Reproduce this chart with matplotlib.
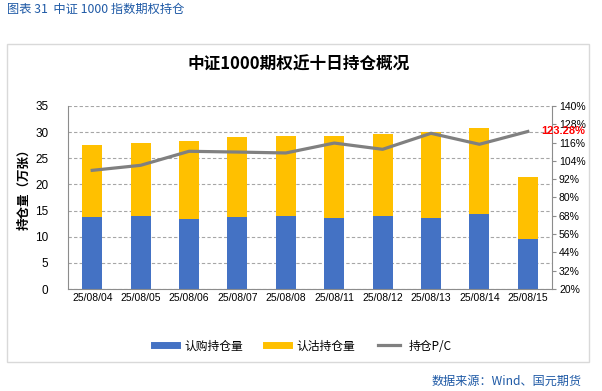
import matplotlib.pyplot as plt
from matplotlib.lines import Line2D
from matplotlib.patches import Rectangle
from matplotlib.ticker import FuncFormatter

plt.rcParams['font.family'] = ['Liberation Sans', 'Noto Sans CJK SC', 'DejaVu Sans']

# data
dates = ['25/08/04', '25/08/05', '25/08/06', '25/08/07', '25/08/08',
         '25/08/11', '25/08/12', '25/08/13', '25/08/14', '25/08/15']
call_oi = [13.8, 14.0, 13.4, 13.8, 14.0, 13.6, 14.0, 13.6, 14.3, 9.6]
put_oi = [13.7, 13.9, 14.9, 15.3, 15.2, 15.7, 15.6, 16.4, 16.5, 11.8]
pc_ratio = [97.8, 101.1, 110.3, 109.8, 109.2, 115.7, 111.6, 122.1, 114.9, 123.28]

fig = plt.figure(figsize=(6.02, 3.91), dpi=100)
cjk = ['Noto Sans CJK SC', 'DejaVu Sans']

# outer frame
fig.patches.append(Rectangle((6.5 / 602, 1 - 362 / 391), (589 - 6.5) / 602, (362 - 44) / 391,
                             transform=fig.transFigure, fill=False, ec='#d9d9d9', lw=1))

fig.text(7 / 602, 1 - 9 / 391, '图表 31  中证 1000 指数期权持仓', color='#1F5AA6',
         fontsize=8.8, va='center', ha='left', family=cjk)
fig.text(582 / 602, 1 - 381 / 391, '数据来源：Wind、国元期货', color='#1F5AA6',
         fontsize=8.7, va='center', ha='right', family=cjk)
fig.text(299 / 602, 1 - 65 / 391, '中证1000期权近十日持仓概况', fontsize=12,
         fontweight='bold', ha='center', va='center', family=cjk)

ax = fig.add_axes([68 / 602, 1 - 289 / 391, 484 / 602, 183 / 391])
x = range(len(dates))
ax.bar(x, call_oi, width=0.41, color='#4472C4', zorder=2)
ax.bar(x, put_oi, width=0.41, bottom=call_oi, color='#FFC000', zorder=2)
ax.set_xlim(-0.5, len(dates) - 0.5)
ax.set_ylim(0, 35)
ax.set_yticks(range(0, 36, 5))
ax.set_xticks(list(x))
ax.set_xticklabels(dates)
ax.grid(axis='y', ls=(0, (3, 2)), color='#a6a6a6', lw=0.8, zorder=0)
ax.tick_params(axis='y', length=0, labelsize=8.5, pad=14)
ax.tick_params(axis='x', length=0, labelsize=7.5, pad=3)
for s in ['top', 'right']:
    ax.spines[s].set_visible(False)
for s in ['left', 'bottom']:
    ax.spines[s].set_color('#8c8c8c')
ax.set_ylabel('持仓量（万张）', family=cjk, fontweight='bold', fontsize=9)
ax.yaxis.set_label_coords(-0.078, 0.56)

ax2 = ax.twinx()
ax2.plot(x, pc_ratio, color='#808080', lw=2.3, zorder=3)
ax2.set_ylim(20, 140)
ax2.set_yticks(range(20, 141, 12))
ax2.yaxis.set_major_formatter(FuncFormatter(lambda v, p: f'{v:.0f}%'))
ax2.tick_params(axis='y', length=3, color='#8c8c8c', labelsize=7.5, pad=2)
for s in ['top', 'left', 'bottom']:
    ax2.spines[s].set_visible(False)
ax2.spines['right'].set_color('#8c8c8c')
ax2.annotate(f'{pc_ratio[-1]:.2f}%', (x[-1], pc_ratio[-1]), xytext=(10, 0),
             textcoords='offset points', color='red', fontweight='bold', fontsize=8,
             va='center', ha='left', annotation_clip=False)

handles = [Line2D([], [], color='#4472C4', lw=5),
           Line2D([], [], color='#FFC000', lw=5),
           Line2D([], [], color='#808080', lw=2.3)]
fig.legend(handles, ['认购持仓量', '认沽持仓量', '持仓P/C'], loc='center',
           bbox_to_anchor=(303 / 602, 1 - 346 / 391), ncol=3, frameon=False,
           prop={'family': cjk, 'size': 8.5}, handlelength=1.9, columnspacing=1.9,
           handletextpad=0.7)

fig.savefig('out.png', dpi=100)
